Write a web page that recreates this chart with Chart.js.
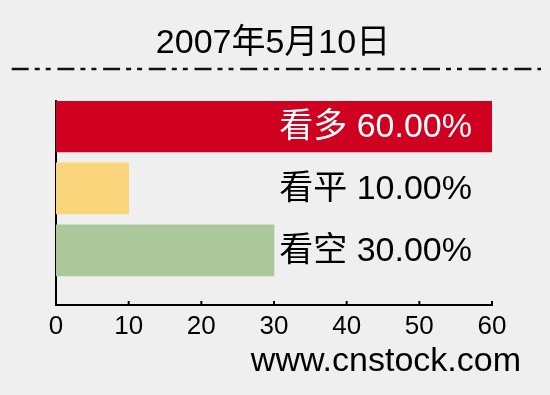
<!DOCTYPE html>
<html>
<head>
<meta charset="utf-8">
<script src="https://cdn.jsdelivr.net/npm/chart.js@4/dist/chart.umd.min.js"></script>
<style>
  html, body { margin: 0; padding: 0; background: #efefef; }
  #wrap { width: 550px; height: 395px; }
</style>
</head>
<body>
<div id="wrap"><canvas id="c" width="550" height="395"></canvas></div>
<script>
const titleText = '2007年5月10日';
const categories = ['看多', '看平', '看空'];
const percentValues = [60, 10, 30];
const barColors = ['#cf0020', '#fad57c', '#adc89b'];
const xTicks = [0, 10, 20, 30, 40, 50, 60];
const sourceText = 'www.cnstock.com';

const FONT = "'Liberation Sans', 'Noto Sans CJK SC', sans-serif";

// title, dash-dot rule and source text
const decorPlugin = {
    id: 'decor',
    afterDraw(chart) {
        const ctx = chart.ctx;
        ctx.save();
        ctx.fillStyle = '#000';
        ctx.font = '34px ' + FONT;
        ctx.textAlign = 'center';
        ctx.textBaseline = 'alphabetic';
        ctx.fillText(titleText, 273, 53);

        ctx.strokeStyle = '#111';
        ctx.lineWidth = 2.5;
        ctx.setLineDash([17, 6, 5, 6, 5, 6.7]);
        ctx.beginPath();
        ctx.moveTo(11.7, 69);
        ctx.lineTo(541, 69);
        ctx.stroke();
        ctx.setLineDash([]);

        ctx.font = '34px ' + FONT;
        ctx.textAlign = 'right';
        ctx.fillText(sourceText, 521, 371);
        ctx.restore();
    }
};

// small inward tick marks on the x axis
const tickPlugin = {
    id: 'innerTicks',
    afterDraw(chart) {
        const ctx = chart.ctx;
        const xs = chart.scales.x;
        const y0 = chart.chartArea.bottom;
        ctx.save();
        ctx.strokeStyle = '#000';
        ctx.lineWidth = 2;
        xs.ticks.forEach(t => {
            if (t.value === 0) return;
            const px = xs.getPixelForValue(t.value);
            ctx.beginPath();
            ctx.moveTo(px, y0);
            ctx.lineTo(px, y0 - 4);
            ctx.stroke();
        });
        ctx.restore();
    }
};

// bar labels, all right aligned at the same spot
const labelPlugin = {
    id: 'barLabels',
    afterDatasetsDraw(chart) {
        const ctx = chart.ctx;
        const xs = chart.scales.x;
        const meta = chart.getDatasetMeta(0);
        const rightX = xs.getPixelForValue(xs.max) - 20;
        ctx.save();
        ctx.font = '34px ' + FONT;
        ctx.textAlign = 'right';
        ctx.textBaseline = 'middle';
        meta.data.forEach((bar, i) => {
            const txt = categories[i] + ' ' + percentValues[i].toFixed(2) + '%';
            ctx.fillStyle = bar.x >= rightX ? '#fff' : '#000';
            ctx.fillText(txt, rightX, bar.y + 1);
        });
        ctx.restore();
    }
};

new Chart(document.getElementById('c'), {
    type: 'bar',
    data: {
        labels: categories,
        datasets: [{
            data: percentValues.map((v, i) => ({ x: v, y: i })),
            backgroundColor: barColors,
            borderWidth: 0,
            barThickness: 51
        }]
    },
    options: {
        indexAxis: 'y',
        responsive: false,
        animation: false,
        layout: { padding: { top: 101, left: 56, right: 58, bottom: 52 } },
        plugins: {
            legend: { display: false },
            title: { display: false },
            tooltip: { enabled: false }
        },
        scales: {
            x: {
                type: 'linear',
                min: 0,
                max: 60,
                z: 1,
                afterBuildTicks: s => { s.ticks = xTicks.map(v => ({ value: v })); },
                afterFit: s => { s.height = 38; },
                grid: { display: false, drawTicks: false },
                border: { display: true, color: '#000', width: 2 },
                ticks: {
                    color: '#000',
                    padding: 6,
                    maxRotation: 0,
                    autoSkip: false,
                    font: { family: FONT, size: 26 }
                }
            },
            y: {
                type: 'linear',
                min: -0.41,
                max: 2.88,
                reverse: true,
                offset: false,
                z: 1,
                afterFit: s => { s.width = 0; },
                grid: { display: false, drawTicks: false, offset: false },
                border: { display: true, color: '#000', width: 2 },
                ticks: { display: false }
            }
        }
    },
    plugins: [decorPlugin, tickPlugin, labelPlugin]
});
</script>
</body>
</html>
